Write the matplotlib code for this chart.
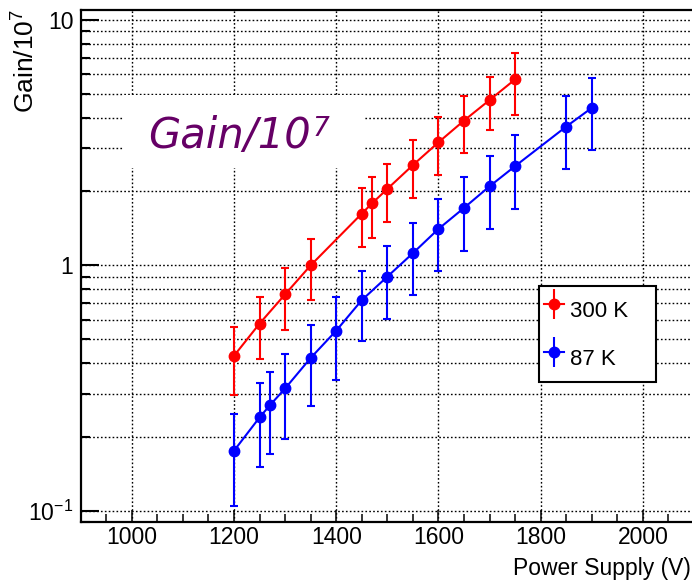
import matplotlib
matplotlib.use("Agg")
import matplotlib.pyplot as plt
from matplotlib import font_manager
from matplotlib.lines import Line2D
from matplotlib.legend_handler import HandlerTuple
from matplotlib.patches import Rectangle
from matplotlib.ticker import FixedLocator, FixedFormatter, LogLocator, MultipleLocator, NullFormatter

# ---------------- data ----------------
red_v = [1200, 1250, 1300, 1350, 1450, 1470, 1500, 1550, 1600, 1650, 1700, 1750]
red_g = [0.428, 0.579, 0.762, 1.00, 1.625, 1.789, 2.049, 2.562, 3.172, 3.890, 4.716, 5.727]
red_e = [0.133, 0.164, 0.217, 0.280, 0.442, 0.492, 0.549, 0.680, 0.842, 1.009, 1.160, 1.629]

blue_v = [1200, 1250, 1270, 1300, 1350, 1400, 1450, 1500, 1550, 1600, 1650, 1700, 1750, 1850, 1900]
blue_g = [0.1756, 0.2401, 0.2687, 0.3150, 0.4195, 0.5419, 0.7214, 0.8994, 1.121, 1.407,
          1.714, 2.099, 2.537, 3.677, 4.383]
blue_e = [0.0714, 0.0899, 0.0990, 0.1184, 0.1524, 0.2009, 0.2293, 0.2957, 0.3607, 0.4612,
          0.5665, 0.6910, 0.8460, 1.2005, 1.422]

series_labels = ["300 K", "87 K"]
y_tick_values = [0.1, 1, 10]
y_tick_labels = [r"$\mathsf{10^{-1}}$", "1", "10"]
x_label = "Power Supply (V)"
y_label = r"Gain/10$^{\mathrm{7}}$"
title_main = "Gain/10"
title_exp = "7"

# ---------------- fonts ----------------
names = {f.name for f in font_manager.fontManager.ttflist}
narrow = "Liberation Sans Narrow" if "Liberation Sans Narrow" in names else "Liberation Sans"
tick_fs = 18.5 if narrow == "Liberation Sans Narrow" else 16.5

plt.rcParams["font.family"] = [narrow, "DejaVu Sans"]
plt.rcParams["mathtext.fontset"] = "custom"
plt.rcParams["mathtext.rm"] = "Liberation Sans"
plt.rcParams["mathtext.sf"] = narrow
plt.rcParams["mathtext.it"] = "DejaVu Sans:italic"

W, H = 692, 581
fig = plt.figure(figsize=(W / 100, H / 100), dpi=100)
L, R, T, B = 80.7, 694.0, 10.0, 522.3
ax = fig.add_axes([L / W, 1 - B / H, (R - L) / W, (B - T) / H])

RED, BLUE = "#ff0000", "#0000ff"
MS = 7.5
for v, g, e, c in [(red_v, red_g, red_e, RED), (blue_v, blue_g, blue_e, BLUE)]:
    ax.errorbar(v, g, yerr=e, color=c, lw=1.5, marker="o", ms=MS, mec=c, mfc=c,
                elinewidth=1.5, capsize=3.2, capthick=1.5, zorder=3)

ax.set_yscale("log")
ax.set_xlim(900, 2100)
ax.set_ylim(0.0897, 10.98)

ax.yaxis.set_major_locator(FixedLocator(y_tick_values))
ax.yaxis.set_major_formatter(FixedFormatter(y_tick_labels))
ax.yaxis.set_minor_locator(LogLocator(base=10, subs=[2, 3, 4, 5, 6, 7, 8, 9]))
ax.yaxis.set_minor_formatter(NullFormatter())
ax.xaxis.set_major_locator(MultipleLocator(200))
ax.xaxis.set_minor_locator(MultipleLocator(50))

ax.tick_params(axis="y", which="major", direction="in", length=13, width=1.5,
               labelsize=tick_fs, pad=5.3, left=True, right=False)
ax.tick_params(axis="y", which="minor", direction="in", length=6.5, width=1.5,
               left=True, right=False)
ax.tick_params(axis="x", which="major", direction="in", length=8.6, width=1.1,
               labelsize=tick_fs, pad=3, bottom=True, top=False)
ax.tick_params(axis="x", which="minor", direction="in", length=5.8, width=1.1,
               bottom=True, top=False)

for s in ax.spines.values():
    s.set_linewidth(1.6)

grid_kw = dict(color="black", lw=1.0, ls=(0, (1.2, 1.6)))
ax.grid(True, which="major", axis="x", **grid_kw)
ax.grid(True, which="both", axis="y", **grid_kw)

# white pave with the purple title
ax.add_patch(Rectangle((0.069, 0.6916), 0.393, 0.1424, transform=ax.transAxes,
                       fc="white", ec="none", zorder=2.5))
purple = "#660066"
t1 = ax.text(0.1097, 0.7306, title_main, transform=ax.transAxes, ha="left", va="baseline",
             fontsize=30, color=purple, family="DejaVu Sans", style="italic", zorder=2.6)
ax.annotate(title_exp, xy=(1, 1), xycoords=t1, xytext=(1.5, -1), textcoords="offset points",
            ha="left", va="top", fontsize=19, color=purple, family="DejaVu Sans",
            style="italic", zorder=2.6)

# legend
def handle(c):
    return (Line2D([], [], color=c, marker="|", ms=21, mew=1.5, ls="none"),
            Line2D([], [], color=c, lw=1.5, marker="o", ms=MS))

leg = ax.legend([handle(RED), handle(BLUE)], series_labels,
                handler_map={tuple: HandlerTuple(ndivide=1)},
                loc="upper left", bbox_to_anchor=(0.7473, 0.2759, 0.1908, 0.1854),
                mode="expand", borderaxespad=0, fancybox=False, shadow=False,
                framealpha=1, edgecolor="black", prop={"family": "Liberation Sans", "size": 16},
                handlelength=0.9, handletextpad=0.25, borderpad=0.23,
                handleheight=2.25, labelspacing=0.45)
leg.get_frame().set_linewidth(1.5)
leg.set_zorder(5)

fig.text(691 / W, 1 - 575.5 / H, x_label, ha="right", va="baseline", fontsize=tick_fs)
fig.text(25 / W, 1 - 9 / H, y_label, rotation=90, ha="center", va="top",
         fontsize=19, family="Liberation Sans")

fig.savefig("out.png", dpi=100)
